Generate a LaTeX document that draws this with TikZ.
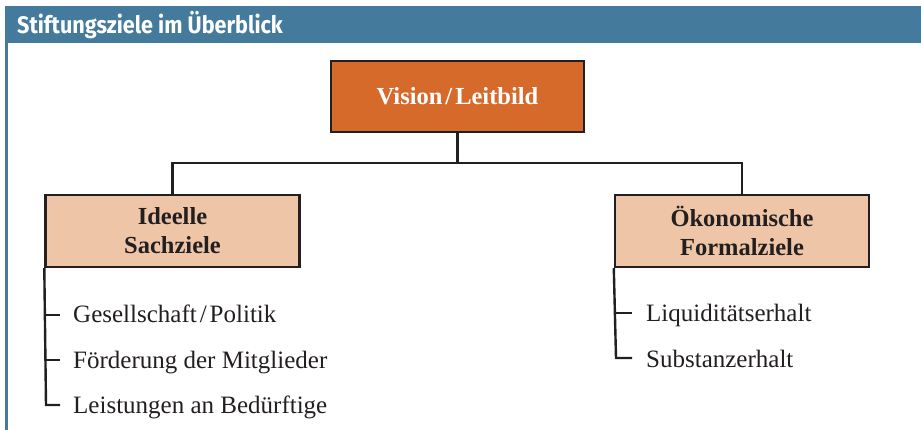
\documentclass[tikz,border=0pt]{standalone}
\usepackage{fontspec}
\setmainfont{Liberation Serif}
\newfontfamily\hdrfont[FakeStretch=0.90]{Fira Sans}
\definecolor{hdrblue}{HTML}{447A9C}
\definecolor{visionfill}{HTML}{D66A2A}
\definecolor{subfill}{HTML}{EEC5A6}
\definecolor{ink}{HTML}{231F20}
\tikzset{
  lnk/.style={draw=ink, line width=2.4pt},
  mainbox/.style={draw=ink, line width=2.4pt, fill=visionfill, minimum width=253pt, minimum height=71pt, inner sep=0pt, text=white, font=\fontsize{24.5}{29}\selectfont\bfseries},
  subbox/.style={draw=ink, line width=2.4pt, fill=subfill, minimum width=254pt, minimum height=72pt, inner sep=0pt, text=ink, align=center, font=\fontsize{24.5}{29}\selectfont\bfseries},
  item/.style={anchor=base west, inner sep=0pt, text=ink, font=\fontsize{25}{30}\selectfont},
}
\begin{document}
\begin{tikzpicture}[x=1pt, y=-1pt]
\useasboundingbox (0,0) rectangle (921,430);
% frame
\fill[hdrblue] (5,6) rectangle (921,43);
\fill[hdrblue] (5,43) rectangle (8,430);
\node[anchor=base west, inner sep=0pt, text=white, font=\hdrfont\fontsize{24}{28}\selectfont\bfseries] (title) at (17,33.5) {Stiftungsziele im Überblick};
% boxes
\node[mainbox] (vision) at (457.5,96.5) {Vision\kern3pt/\kern3pt Leitbild};
\node[subbox] (ideell) at (172.5,231) {Ideelle\\Sachziele};
\node[subbox] (oekon) at (742,231) {Ökonomische\\Formalziele};
% tree connectors
\coordinate (mid) at (457.5,163);
\draw[lnk] (vision.south) -- (mid) -| (ideell.north);
\draw[lnk] (mid) -| (oekon.north);
% left list
\node[item] (g1) at (73,323) {Gesellschaft\kern3pt/\kern3pt Politik};
\node[item] (g2) at (73,368) {Förderung der Mitglieder};
\node[item] (g3) at (73,413) {Leistungen an Bedürftige};
\coordinate (lt1) at (46,315);
\coordinate (lt2) at (46,360);
\coordinate (lt3) at (46,405);
\draw[lnk] (ideell.south west) -- (lt3) -- ++(14,0);
\draw[lnk] (lt1) -- ++(14,0);
\draw[lnk] (lt2) -- ++(14,0);
% right list
\node[item] (o1) at (646,322) {Liquiditätserhalt};
\node[item] (o2) at (646,367) {Substanzerhalt};
\coordinate (rt1) at (616,313);
\coordinate (rt2) at (616,358);
\draw[lnk] (oekon.south west) -- (rt2) -- ++(16,0);
\draw[lnk] (rt1) -- ++(16,0);
\end{tikzpicture}
\end{document}
